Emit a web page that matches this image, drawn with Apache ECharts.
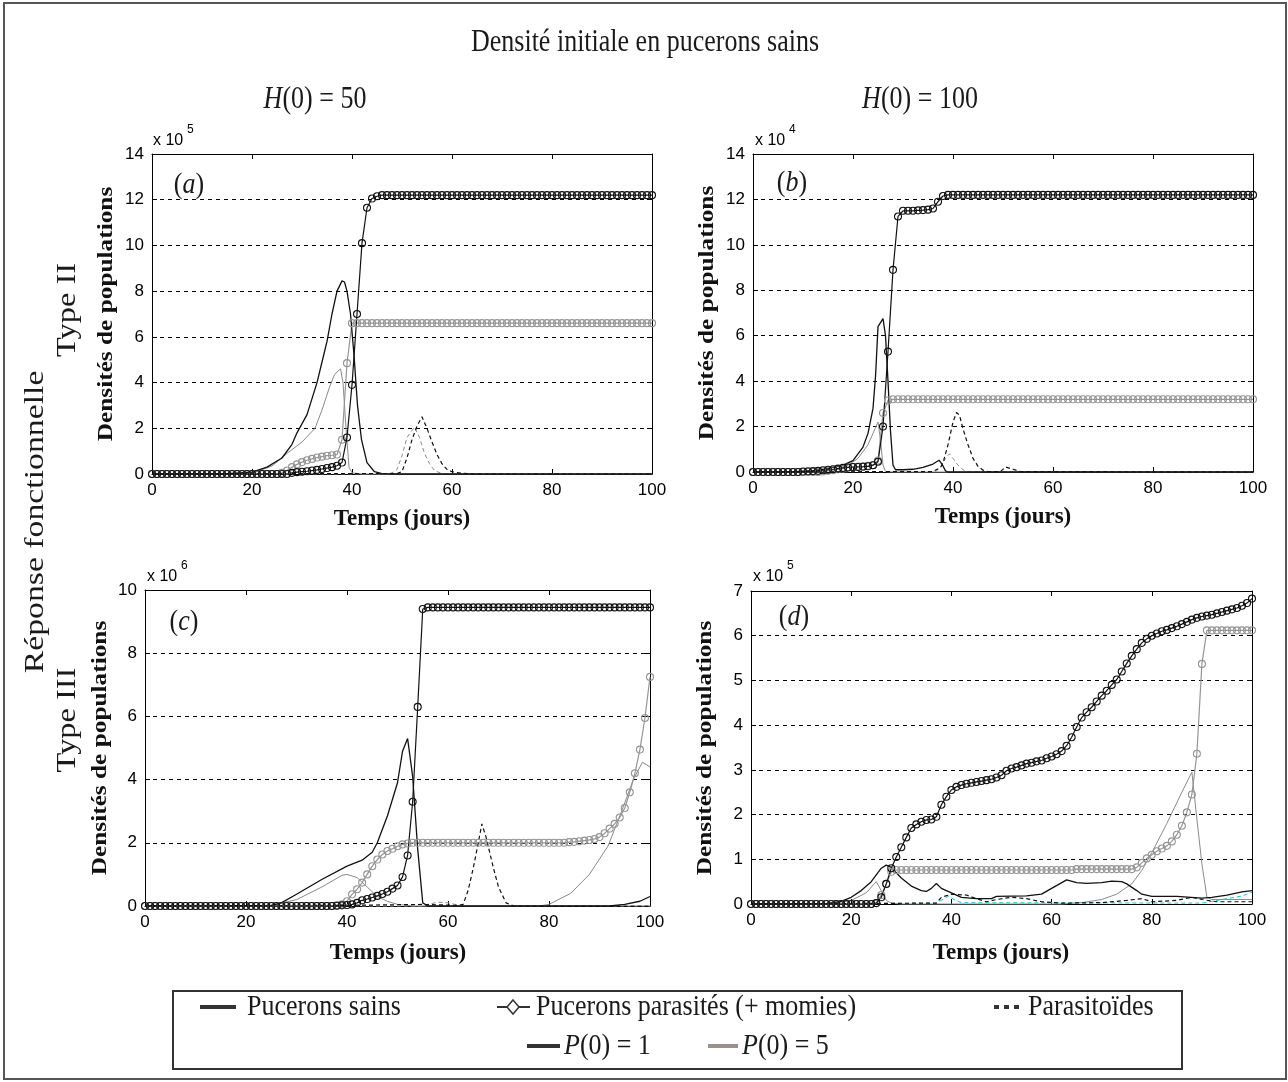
<!DOCTYPE html>
<html>
<head>
<meta charset="utf-8">
<title>Densités de populations</title>
<script src="https://cdn.jsdelivr.net/npm/echarts@6.0.0/dist/echarts.min.js"></script>
<style>
html, body { margin: 0; padding: 0; background: #fff; }
#chart { width: 1288px; height: 1082px; }
</style>
</head>
<body>
<div id="chart"></div>
<script>
// axes : bornes et graduations des 4 panneaux (a, b, c, d)
var lettres = ['a', 'b', 'c', 'd'];
var yMax = [14, 14, 10, 7];
var yPas = [2, 2, 2, 1];
var exposants = ['5', '4', '6', '5'];

// pucerons parasités (+ momies), une valeur par jour de 0 à 100
var parasA1 = [
    0,0,0,0,0,0,0,0,0,0,
    0,0,0,0,0,0,0,0,0,0,
    0,0,0,0,0,0,0,0,0.05,0.08,
    0.1,0.12,0.15,0.18,0.22,0.26,0.3,0.36,0.5,1.6,
    3.9,7.0,10.1,11.65,12.05,12.15,12.2,12.2,12.2,12.2,
    12.2,12.2,12.2,12.2,12.2,12.2,12.2,12.2,12.2,12.2,
    12.2,12.2,12.2,12.2,12.2,12.2,12.2,12.2,12.2,12.2,
    12.2,12.2,12.2,12.2,12.2,12.2,12.2,12.2,12.2,12.2,
    12.2,12.2,12.2,12.2,12.2,12.2,12.2,12.2,12.2,12.2,
    12.2,12.2,12.2,12.2,12.2,12.2,12.2,12.2,12.2,12.2,
    12.2];
var parasA5 = [
    0,0,0,0,0,0,0,0,0,0,
    0,0,0,0,0,0,0,0,0,0,
    0,0,0,0,0,0,0.05,0.15,0.3,0.42,
    0.52,0.6,0.66,0.72,0.76,0.8,0.82,0.85,1.5,4.85,
    6.6,6.6,6.6,6.6,6.6,6.6,6.6,6.6,6.6,6.6,
    6.6,6.6,6.6,6.6,6.6,6.6,6.6,6.6,6.6,6.6,
    6.6,6.6,6.6,6.6,6.6,6.6,6.6,6.6,6.6,6.6,
    6.6,6.6,6.6,6.6,6.6,6.6,6.6,6.6,6.6,6.6,
    6.6,6.6,6.6,6.6,6.6,6.6,6.6,6.6,6.6,6.6,
    6.6,6.6,6.6,6.6,6.6,6.6,6.6,6.6,6.6,6.6,
    6.6];
var parasB1 = [
    0,0,0,0,0,0,0,0,0,0,
    0.02,0.03,0.04,0.05,0.08,0.1,0.12,0.15,0.18,0.2,
    0.22,0.22,0.23,0.25,0.3,0.45,2.0,5.3,8.9,11.25,
    11.5,11.5,11.5,11.52,11.53,11.55,11.6,11.9,12.15,12.2,
    12.2,12.2,12.2,12.2,12.2,12.2,12.2,12.2,12.2,12.2,
    12.2,12.2,12.2,12.2,12.2,12.2,12.2,12.2,12.2,12.2,
    12.2,12.2,12.2,12.2,12.2,12.2,12.2,12.2,12.2,12.2,
    12.2,12.2,12.2,12.2,12.2,12.2,12.2,12.2,12.2,12.2,
    12.2,12.2,12.2,12.2,12.2,12.2,12.2,12.2,12.2,12.2,
    12.2,12.2,12.2,12.2,12.2,12.2,12.2,12.2,12.2,12.2,
    12.2];
var parasB5 = [
    0,0,0,0,0,0,0,0,0,0,
    0,0,0,0,0.02,0.05,0.08,0.12,0.15,0.2,
    0.22,0.24,0.25,0.27,0.3,0.5,2.6,3.15,3.2,3.2,
    3.2,3.2,3.2,3.2,3.2,3.2,3.2,3.2,3.2,3.2,
    3.2,3.2,3.2,3.2,3.2,3.2,3.2,3.2,3.2,3.2,
    3.2,3.2,3.2,3.2,3.2,3.2,3.2,3.2,3.2,3.2,
    3.2,3.2,3.2,3.2,3.2,3.2,3.2,3.2,3.2,3.2,
    3.2,3.2,3.2,3.2,3.2,3.2,3.2,3.2,3.2,3.2,
    3.2,3.2,3.2,3.2,3.2,3.2,3.2,3.2,3.2,3.2,
    3.2,3.2,3.2,3.2,3.2,3.2,3.2,3.2,3.2,3.2,
    3.2];
var parasC1 = [
    0,0,0,0,0,0,0,0,0,0,
    0,0,0,0,0,0,0,0,0,0,
    0,0,0,0,0,0,0,0,0,0,
    0,0,0,0,0,0,0,0,0.01,0.02,
    0.03,0.05,0.1,0.18,0.22,0.27,0.32,0.38,0.45,0.55,
    0.65,0.92,1.6,3.3,6.3,9.4,9.45,9.45,9.45,9.45,
    9.45,9.45,9.45,9.45,9.45,9.45,9.45,9.45,9.45,9.45,
    9.45,9.45,9.45,9.45,9.45,9.45,9.45,9.45,9.45,9.45,
    9.45,9.45,9.45,9.45,9.45,9.45,9.45,9.45,9.45,9.45,
    9.45,9.45,9.45,9.45,9.45,9.45,9.45,9.45,9.45,9.45,
    9.45];
var parasC5 = [
    0,0,0,0,0,0,0,0,0,0,
    0,0,0,0,0,0,0,0,0,0,
    0,0,0,0,0,0,0,0,0,0,
    0,0,0,0,0,0,0,0,0.02,0.05,
    0.15,0.37,0.53,0.74,1.0,1.26,1.47,1.63,1.74,1.81,
    1.89,1.95,1.98,2.0,2.0,2.0,2.0,2.0,2.0,2.0,
    2.0,2.0,2.0,2.0,2.0,2.0,2.0,2.0,2.0,2.0,
    2.0,2.0,2.0,2.0,2.0,2.0,2.0,2.0,2.0,2.0,
    2.0,2.0,2.0,2.0,2.02,2.03,2.05,2.07,2.09,2.12,
    2.18,2.3,2.45,2.6,2.8,3.1,3.6,4.2,4.95,5.95,
    7.25];
var parasD1 = [
    0,0,0,0,0,0,0,0,0,0,
    0,0,0,0,0,0,0,0,0,0,
    0,0,0,0,0,0.02,0.15,0.45,0.8,1.05,
    1.27,1.49,1.7,1.78,1.84,1.88,1.89,1.95,2.22,2.4,
    2.55,2.62,2.66,2.69,2.71,2.73,2.75,2.77,2.79,2.83,
    2.88,2.98,3.03,3.06,3.1,3.14,3.16,3.19,3.21,3.26,
    3.3,3.35,3.42,3.54,3.73,3.96,4.17,4.29,4.4,4.53,
    4.66,4.77,4.9,5.02,5.2,5.38,5.55,5.7,5.84,5.93,
    6.0,6.05,6.1,6.13,6.17,6.21,6.26,6.31,6.36,6.4,
    6.43,6.45,6.47,6.5,6.53,6.56,6.59,6.62,6.67,6.73,
    6.83];
var parasD5 = [
    0,0,0,0,0,0,0,0,0,0,
    0,0,0,0,0,0,0,0,0,0,
    0,0,0,0,0,0.02,0.2,0.45,0.72,0.76,
    0.76,0.76,0.76,0.76,0.76,0.76,0.76,0.76,0.76,0.76,
    0.76,0.76,0.76,0.76,0.76,0.76,0.76,0.76,0.76,0.76,
    0.76,0.76,0.76,0.76,0.76,0.76,0.76,0.76,0.76,0.76,
    0.76,0.76,0.76,0.76,0.76,0.78,0.78,0.78,0.78,0.78,
    0.78,0.78,0.78,0.78,0.78,0.78,0.78,0.82,0.92,1.02,
    1.1,1.18,1.24,1.3,1.4,1.55,1.75,2.05,2.45,3.36,
    5.37,6.12,6.12,6.12,6.12,6.12,6.12,6.12,6.12,6.12,
    6.12];

// pucerons sains, points [jour, densité]
var sainsA1 = [[0,0],[15,0.01],[20,0.08],[23,0.3],[26,0.7],[28,1.3],[29,1.8],[31,2.6],[33,4.0],[34,4.9],[35,5.8],[36,7.0],[37,8.0],[38,8.45],[38.5,8.4],[39,8.0],[39.7,7.0],[40.4,5.2],[41.1,3.0],[41.9,1.5],[43,0.5],[44.5,0.1],[46,0.02],[50,0],[100,0]];
var sainsA5 = [[0,0],[18,0.02],[21,0.1],[24,0.35],[27,0.9],[30,1.4],[32.6,2.0],[34,2.8],[35.5,3.8],[36.5,4.35],[37.7,4.6],[38.2,4.0],[38.8,2.0],[39.4,0.3],[40,0.05],[42,0],[100,0]];
var sainsB1 = [[0,0],[8,0.02],[12,0.06],[15,0.15],[18,0.3],[20,0.5],[21,0.8],[22,1.1],[23,1.7],[24,2.8],[24.5,4.2],[25,6.4],[26,6.75],[26.5,6.0],[27,4.0],[27.5,1.8],[28,0.3],[28.5,0.1],[30,0.1],[32,0.12],[34,0.2],[36,0.35],[37.2,0.52],[37.8,0.35],[38.5,0.05],[39,0],[100,0]];
var sainsB5 = [[0,0],[12,0.03],[16,0.1],[19,0.3],[21,0.6],[23,1.2],[24,1.7],[25,2.2],[25.5,1.4],[26,0.3],[26.5,0.02],[28,0],[100,0]];
var sainsC1 = [[0,0],[25,0.02],[27,0.1],[30,0.37],[35,0.84],[40,1.26],[43,1.45],[45,1.7],[46,2.0],[48,2.85],[50,3.9],[51,4.9],[52,5.3],[53,4.1],[54,1.8],[55,0.1],[56,0],[92,0],[95,0.05],[98,0.15],[100,0.3]];
var sainsC5 = [[0,0],[25,0.02],[30,0.2],[35,0.6],[39,0.97],[40,1.0],[42,0.9],[44,0.6],[46,0.3],[48,0.15],[50,0.05],[53,0],[78,0],[80,0.05],[84.3,0.4],[88,1.0],[91.7,1.9],[94.5,3.05],[96.7,4.0],[98.5,4.55],[100,4.4]];
var sainsD1 = [[0,0],[15,0.01],[18,0.06],[20,0.15],[22,0.3],[24,0.5],[25,0.65],[26,0.8],[27,0.87],[28,0.82],[29,0.7],[30,0.58],[32,0.4],[34,0.3],[35,0.28],[36,0.35],[37,0.46],[38,0.35],[39,0.3],[40,0.25],[42,0.15],[45,0.12],[48,0.12],[49,0.17],[55,0.18],[58,0.22],[60,0.35],[63,0.54],[65,0.48],[67,0.46],[70,0.48],[72,0.51],[74,0.5],[75,0.45],[77,0.3],[78,0.22],[80,0.17],[85,0.17],[90,0.13],[92,0.15],[95,0.2],[98,0.27],[100,0.3]];
var sainsD5 = [[0,0],[16,0.01],[20,0.08],[23,0.25],[25,0.5],[26,0.3],[27,0.08],[28,0.02],[30,0],[62,0],[66,0.03],[70,0.1],[73,0.22],[76,0.45],[78,0.75],[80,1.15],[83,1.8],[86,2.5],[88,2.95],[89,1.9],[90,0.9],[91,0.15],[92,0.1],[100,0.1]];

// parasitoïdes, points [jour, densité]
var parasitoA1 = [[0,0],[40,0.02],[49,0.02],[50,0.1],[51,0.7],[52,1.5],[53,2.1],[54,2.5],[55,2.0],[56,1.4],[57,0.85],[58,0.45],[59,0.2],[60,0.1],[62,0.03],[64,0],[100,0]];
var parasitoA5 = [[0,0],[47,0],[48,0.05],[49,0.2],[50,0.8],[51,1.6],[52.5,2.05],[53.5,1.6],[54.5,0.9],[55.5,0.45],[56.5,0.15],[58,0.02],[60,0],[100,0]];
var parasitoB1 = [[0,0],[36,0.02],[37.5,0.2],[38,0.4],[39,1.2],[40,2.2],[40.7,2.62],[41.3,2.5],[42,1.9],[43,1.2],[44,0.6],[45,0.25],[46,0.08],[47,0.02],[49.5,0.02],[50.5,0.22],[52,0.12],[53.5,0.02],[100,0]];
var parasitoB5 = [[0,0],[36.5,0.02],[37.5,0.2],[38.5,0.6],[39.3,0.8],[40,0.6],[41,0.3],[42,0.1],[43,0.02],[100,0]];
var parasitoC1 = [[0,0],[40,0.02],[55,0.05],[62,0.02],[63,0.05],[64,0.5],[65,1.2],[66,2.0],[66.7,2.6],[67.5,2.2],[69,1.2],[70,0.6],[71.5,0.1],[73,0],[100,0]];
var parasitoC5 = [[0,0],[55,0],[56,0.05],[58,0.12],[60,0.1],[62,0.03],[64,0],[100,0]];
var parasitoD1 = [[0,0],[37,0.02],[38,0.15],[40,0.22],[43,0.2],[45,0.12],[47,0.05],[49,0.1],[52,0.15],[55,0.12],[58,0.05],[62,0.02],[70,0.03],[75,0.08],[78,0.12],[80,0.05],[85,0.08],[88,0.15],[90,0.1],[93,0.05],[100,0.05]];
var parasitoD5 = [[0,0],[37,0.02],[38.5,0.12],[39.5,0.18],[40.5,0.1],[42,0.03],[90,0.02],[92,0.06],[95,0.12],[98,0.18],[100,0.26]];

var NOIR = '#111111';
var GRIS = '#8a8a8a';
var CYAN = '#19c6d6';
var SERIF = '"Liberation Serif", "Times New Roman", serif';
var SANS = '"Liberation Sans", Arial, sans-serif';

// position des 4 graphiques
var grilles = [
    {left: 152, top: 154, width: 500, height: 320},
    {left: 753, top: 154, width: 500, height: 318},
    {left: 145, top: 590, width: 505, height: 316},
    {left: 751, top: 591, width: 501, height: 313}
];

var xAxes = [], yAxes = [];
grilles.forEach(function (g, i) {
    var ligne = {onZero: false, lineStyle: {color: '#000', width: 1}};
    var tick = {inside: true, length: 5, lineStyle: {color: '#000'}};
    xAxes.push({
        gridIndex: i, type: 'value', min: 0, max: 100, interval: 20,
        axisLine: ligne, axisTick: tick, splitLine: {show: false},
        axisLabel: {color: '#000', fontFamily: SANS, fontSize: 17, margin: 8}
    });
    xAxes.push({
        gridIndex: i, type: 'value', position: 'top', min: 0, max: 100, interval: 20,
        axisLine: ligne, axisTick: tick, splitLine: {show: false}, axisLabel: {show: false}
    });
    yAxes.push({
        gridIndex: i, type: 'value', min: 0, max: yMax[i], interval: yPas[i],
        axisLine: ligne, axisTick: tick,
        axisLabel: {color: '#000', fontFamily: SANS, fontSize: 17, margin: 8},
        splitLine: {show: true, lineStyle: {color: '#000', width: 1, type: [4, 4]}}
    });
    yAxes.push({
        gridIndex: i, type: 'value', position: 'right', min: 0, max: yMax[i], interval: yPas[i],
        axisLine: ligne, axisTick: tick, splitLine: {show: false}, axisLabel: {show: false}
    });
});

// courbe simple (sains / parasitoïdes)
function courbe(i, data, couleur, largeur, tirets) {
    return {
        type: 'line', xAxisIndex: i * 2, yAxisIndex: i * 2,
        data: data, symbol: 'none', clip: false, silent: true,
        lineStyle: {color: couleur, width: largeur, type: tirets ? [4, 3] : 'solid'},
        emphasis: {disabled: true}
    };
}
// courbe avec ronds (parasités)
function courbeRonds(i, valeurs, couleur) {
    return {
        type: 'line', xAxisIndex: i * 2, yAxisIndex: i * 2,
        data: valeurs.map(function (v, j) { return [j, v]; }),
        symbol: 'circle', symbolSize: 7, showAllSymbol: true, clip: false, silent: true,
        itemStyle: {color: 'rgba(255,255,255,0)', borderColor: couleur, borderWidth: 1.1},
        lineStyle: {color: couleur, width: 1.2},
        emphasis: {disabled: true}
    };
}

var sains1 = [sainsA1, sainsB1, sainsC1, sainsD1];
var sains5 = [sainsA5, sainsB5, sainsC5, sainsD5];
var paras1 = [parasA1, parasB1, parasC1, parasD1];
var paras5 = [parasA5, parasB5, parasC5, parasD5];
var parasito1 = [parasitoA1, parasitoB1, parasitoC1, parasitoD1];
var parasito5 = [parasitoA5, parasitoB5, parasitoC5, parasitoD5];

var series = [];
for (var i = 0; i < 4; i++) {
    series.push(courbe(i, sains5[i], GRIS, 1, false));
    series.push(courbe(i, parasito5[i], i === 3 ? CYAN : GRIS, 1, true));
    series.push(courbeRonds(i, paras5[i], '#959595'));
    series.push(courbe(i, sains1[i], NOIR, 1.3, false));
    series.push(courbe(i, parasito1[i], NOIR, 1.2, true));
    series.push(courbeRonds(i, paras1[i], NOIR));
}

// textes
function texte(x, y, txt, font, opts) {
    opts = opts || {};
    var el = {
        type: 'text', x: x, y: y, z: 50,
        rotation: opts.rotation || 0,
        scaleX: opts.scaleX || 1, scaleY: opts.scaleY || 1,
        style: {
            text: txt, font: font, fill: opts.fill || '#1a1a1a',
            textAlign: opts.align || 'center', textVerticalAlign: 'middle',
            align: opts.align || 'center', verticalAlign: 'middle'
        }
    };
    if (opts.rich) { el.style.rich = opts.rich; }
    return el;
}
var italique = {i: {font: 'italic 26px ' + SERIF, fill: '#1a1a1a'}};

var graphic = [
    {type: 'rect', z: 40, shape: {x: 4, y: 3, width: 1282, height: 1076},
        style: {fill: 'none', stroke: '#555', lineWidth: 2}},
    texte(645, 43, 'Densité initiale en pucerons sains', '26px ' + SERIF, {scaleY: 1.2}),
    texte(315, 100, '{i|H}(0) = 50', '26px ' + SERIF, {scaleY: 1.2, rich: italique}),
    texte(920, 100, '{i|H}(0) = 100', '26px ' + SERIF, {scaleY: 1.2, rich: italique}),
    texte(36, 522, 'Réponse fonctionnelle', '27px ' + SERIF, {rotation: Math.PI / 2, scaleX: 1.25}),
    texte(68, 310, 'Type II', '27px ' + SERIF, {rotation: Math.PI / 2, scaleX: 1.2}),
    texte(68, 720, 'Type III', '27px ' + SERIF, {rotation: Math.PI / 2, scaleX: 1.2})
];

var titreY = [[106, 314], [707, 313], [100, 748], [705, 748]];
var titreX = [[402, 519], [1003, 517], [398, 953], [1001, 953]];
var lettrePos = [[189, 185], [792, 183], [184, 622], [794, 617]];
var expoPos = [[153, 141], [755, 141], [147, 577], [753, 577]];
for (var k = 0; k < 4; k++) {
    graphic.push(texte(titreY[k][0], titreY[k][1], 'Densités de populations', 'bold 22px ' + SERIF,
        {rotation: Math.PI / 2, scaleX: 1.15, fill: '#111'}));
    graphic.push(texte(titreX[k][0], titreX[k][1], 'Temps (jours)', 'bold 23px ' + SERIF, {fill: '#111'}));
    graphic.push(texte(lettrePos[k][0], lettrePos[k][1], '({i|' + lettres[k] + '})', '26px ' + SERIF,
        {scaleY: 1.15, rich: italique}));
    graphic.push(texte(expoPos[k][0], expoPos[k][1], 'x 10', '16px ' + SANS, {align: 'left', fill: '#000'}));
    graphic.push(texte(expoPos[k][0] + 34, expoPos[k][1] - 11, exposants[k], '12px ' + SANS, {align: 'left', fill: '#000'}));
}

// légende
graphic.push(
    {type: 'rect', z: 40, shape: {x: 173, y: 991, width: 1009, height: 78},
        style: {fill: '#fff', stroke: '#333', lineWidth: 2}},
    {type: 'line', z: 45, shape: {x1: 200, y1: 1007, x2: 236, y2: 1007}, style: {stroke: '#333', lineWidth: 4}},
    texte(247, 1007, 'Pucerons sains', '26px ' + SERIF, {align: 'left', scaleY: 1.1}),
    {type: 'line', z: 45, shape: {x1: 497, y1: 1007, x2: 530, y2: 1007}, style: {stroke: '#333', lineWidth: 2}},
    {type: 'polygon', z: 46, shape: {points: [[513, 1000], [519, 1007], [513, 1014], [507, 1007]]},
        style: {fill: '#fff', stroke: '#333', lineWidth: 1.5}},
    texte(536, 1007, 'Pucerons parasités (+ momies)', '26px ' + SERIF, {align: 'left', scaleY: 1.1}),
    {type: 'line', z: 45, shape: {x1: 994, y1: 1007, x2: 1022, y2: 1007}, style: {stroke: '#333', lineWidth: 4, lineDash: [5, 5]}},
    texte(1028, 1007, 'Parasitoïdes', '26px ' + SERIF, {align: 'left', scaleY: 1.1}),
    {type: 'line', z: 45, shape: {x1: 527, y1: 1046, x2: 560, y2: 1046}, style: {stroke: '#333', lineWidth: 4}},
    texte(564, 1046, '{i|P}(0) = 1', '26px ' + SERIF, {align: 'left', scaleY: 1.1, rich: italique}),
    {type: 'line', z: 45, shape: {x1: 708, y1: 1046, x2: 738, y2: 1046}, style: {stroke: '#9b918c', lineWidth: 4}},
    texte(742, 1046, '{i|P}(0) = 5', '26px ' + SERIF, {align: 'left', scaleY: 1.1, rich: italique})
);

var option = {
    animation: false,
    backgroundColor: '#fff',
    grid: grilles,
    xAxis: xAxes,
    yAxis: yAxes,
    series: series,
    graphic: graphic
};

var chart = echarts.init(document.getElementById('chart'));
chart.setOption(option);
</script>
</body>
</html>
